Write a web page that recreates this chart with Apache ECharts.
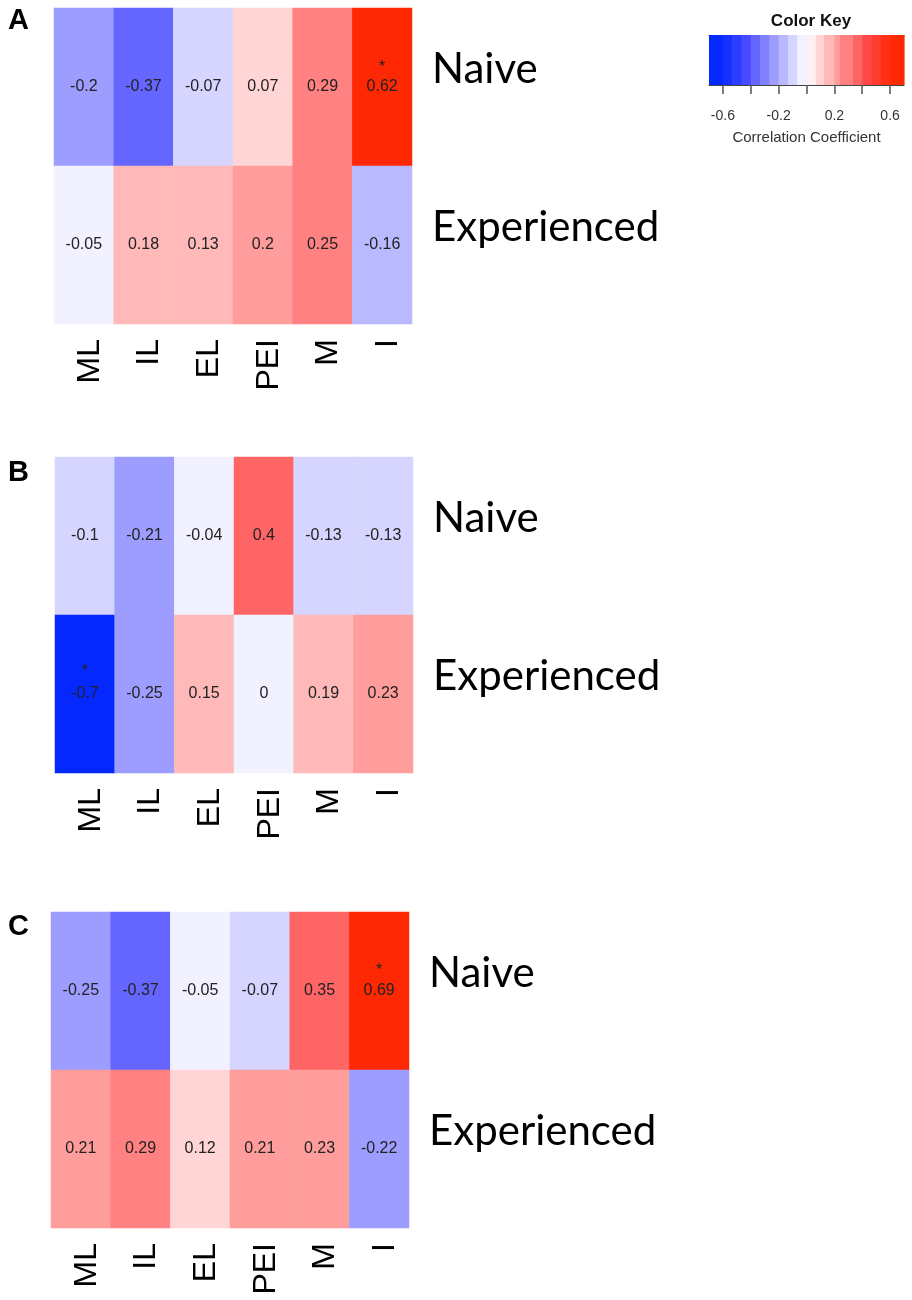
<!DOCTYPE html>
<html>
<head>
<meta charset="utf-8">
<script src="https://cdn.jsdelivr.net/npm/echarts@6/dist/echarts.min.js"></script>
<style>
  html, body { margin: 0; padding: 0; background: #fff; }
  #chart { width: 912px; height: 1300px; }
</style>
</head>
<body>
<div id="chart"></div>
<script>
// 列与行
var cols = ['ML', 'IL', 'EL', 'PEI', 'M', 'I'];
var rows = ['Experienced', 'Naive'];

// 相关系数（每个面板两行）
var naiveA = [-0.2, -0.37, -0.07, 0.07, 0.29, 0.62];
var expA   = [-0.05, 0.18, 0.13, 0.2, 0.25, -0.16];
var naiveB = [-0.1, -0.21, -0.04, 0.4, -0.13, -0.13];
var expB   = [-0.7, -0.25, 0.15, 0, 0.19, 0.23];
var naiveC = [-0.25, -0.37, -0.05, -0.07, 0.35, 0.69];
var expC   = [0.21, 0.29, 0.12, 0.21, 0.23, -0.22];

// 显著性星号
var sigNaiveA = [0, 0, 0, 0, 0, 1];
var sigExpA   = [0, 0, 0, 0, 0, 0];
var sigNaiveB = [0, 0, 0, 0, 0, 0];
var sigExpB   = [1, 0, 0, 0, 0, 0];
var sigNaiveC = [0, 0, 0, 0, 0, 1];
var sigExpC   = [0, 0, 0, 0, 0, 0];

// 色标分段（从图例读出）
var keyBreaks = [-0.7, -0.6, -0.5333, -0.4667, -0.4002, -0.3333, -0.2667, -0.1998, -0.1333, -0.0667, 0,
                 0.0667, 0.125, 0.1998, 0.24, 0.3333, 0.4002, 0.4667, 0.5333, 0.6, 0.7];
var keyColors = ['#0528ff', '#1530ff', '#2d3dff', '#4949ff', '#6565ff', '#8181ff', '#9d9dff', '#b9b9ff', '#d5d5ff', '#f1f1ff',
                 '#fff1f1', '#ffd5d5', '#ffb9b9', '#ff9d9d', '#ff8181', '#ff6565', '#ff4949', '#ff3d2d', '#ff3015', '#ff2805'];
var keyTicks = [-0.6, -0.4, -0.2, 0, 0.2, 0.4, 0.6];
var keyLabels = [-0.6, -0.2, 0.2, 0.6];

var pieces = [];
var keyData = [];
for (var i = 0; i < keyColors.length; i++) {
	var pc = { lte: keyBreaks[i + 1], color: keyColors[i] };
	if (i > 0) pc.gt = keyBreaks[i];
	if (i == keyColors.length - 1) pc.lte = 10;
	pieces.push(pc);
	keyData.push([keyBreaks[i], keyBreaks[i + 1], (keyBreaks[i] + keyBreaks[i + 1]) / 2]);
}

function cells(naive, exp, sigN, sigE) {
	var out = [];
	for (var i = 0; i < cols.length; i++) {
		out.push([i, 1, naive[i], sigN[i]]);
		out.push([i, 0, exp[i], sigE[i]]);
	}
	return out;
}

var panels = [
	{ left: 54, top: 8,   letter: 'A', ly: 21,  gap: 20, data: cells(naiveA, expA, sigNaiveA, sigExpA) },
	{ left: 55, top: 457, letter: 'B', ly: 473, gap: 27, data: cells(naiveB, expB, sigNaiveB, sigExpB) },
	{ left: 51, top: 912, letter: 'C', ly: 927, gap: 22, data: cells(naiveC, expC, sigNaiveC, sigExpC) }
];

var font = '"Liberation Sans", Arial, sans-serif';
var grids = [], xAxes = [], yAxes = [], series = [], letters = [];
panels.forEach(function(p, k) {
	grids.push({ left: p.left, top: p.top, width: 358, height: 316 });
	xAxes.push({
		type: 'category', gridIndex: k, data: cols,
		axisLine: { show: false }, axisTick: { show: false },
		axisLabel: { rotate: 90, margin: 15, fontSize: 32, color: '#000', fontFamily: font,
			verticalAlign: 'top', lineHeight: 12 }
	});
	yAxes.push({
		type: 'category', gridIndex: k, data: rows, position: 'right',
		axisLine: { show: false }, axisTick: { show: false },
		axisLabel: { margin: 20, fontSize: 42, color: '#000', fontFamily: 'Lato, sans-serif',
			verticalAlign: 'bottom', lineHeight: 35 }
	});
	series.push({
		type: 'heatmap', xAxisIndex: k, yAxisIndex: k, data: p.data,
		itemStyle: { borderWidth: 0 },
		label: {
			show: true,
			formatter: function(d) {
				var t = String(d.value[2]);
				return d.value[3] ? '{s|*}\n{v|' + t + '}\n{s| }' : '{v|' + t + '}';
			},
			rich: {
				v: { fontSize: 16, lineHeight: 18, color: '#222', fontFamily: font },
				s: { fontSize: 16, lineHeight: p.gap, color: '#222', fontFamily: font }
			}
		},
		emphasis: { disabled: true }
	});
	letters.push({
		type: 'text', x: 8, y: p.ly,
		style: { text: p.letter, fontSize: 29, fontWeight: 'bold', fill: '#000', fontFamily: font, verticalAlign: 'middle' }
	});
});

// 色标
grids.push({ left: 709, top: 35, width: 195, height: 50 });
xAxes.push({
	type: 'value', gridIndex: 3, min: -0.7, max: 0.7,
	splitLine: { show: false },
	axisLine: { show: true, lineStyle: { color: '#444', width: 1 } },
	axisTick: { show: true, customValues: keyTicks, length: 9, lineStyle: { color: '#555', width: 1.5 } },
	axisLabel: { customValues: keyLabels, margin: 24, fontSize: 14, color: '#333', fontFamily: font },
	name: 'Correlation Coefficient', nameLocation: 'middle', nameGap: 45,
	nameTextStyle: { fontSize: 15, color: '#333', fontFamily: font }
});
xAxes.push({
	type: 'value', gridIndex: 3, min: -0.7, max: 0.7, position: 'top',
	splitLine: { show: false }, axisTick: { show: false }, axisLabel: { show: false },
	axisLine: { show: true, lineStyle: { color: '#444', width: 1 } }
});
yAxes.push({ type: 'value', gridIndex: 3, min: 0, max: 1, show: false });
series.push({
	type: 'custom', xAxisIndex: 3, yAxisIndex: 3, data: keyData,
	encode: { x: [0, 1], y: 2 },
	renderItem: function(params, api) {
		var p0 = api.coord([api.value(0), 1]);
		var p1 = api.coord([api.value(1), 0]);
		return {
			type: 'rect',
			shape: { x: p0[0], y: p0[1], width: p1[0] - p0[0] + 0.6, height: p1[1] - p0[1] },
			style: { fill: api.visual('color') }
		};
	},
	z: 1
});

var option = {
	animation: false,
	backgroundColor: '#fff',
	title: {
		text: 'Color Key', left: 806, top: 8, textAlign: 'center',
		textStyle: { fontSize: 17, fontWeight: 'bold', color: '#111', fontFamily: font }
	},
	grid: grids,
	xAxis: xAxes,
	yAxis: yAxes,
	visualMap: {
		type: 'piecewise', show: false, dimension: 2,
		seriesIndex: [0, 1, 2, 3],
		pieces: pieces
	},
	graphic: letters,
	series: series
};

var myChart = echarts.init(document.getElementById('chart'));
myChart.setOption(option);
</script>
</body>
</html>
